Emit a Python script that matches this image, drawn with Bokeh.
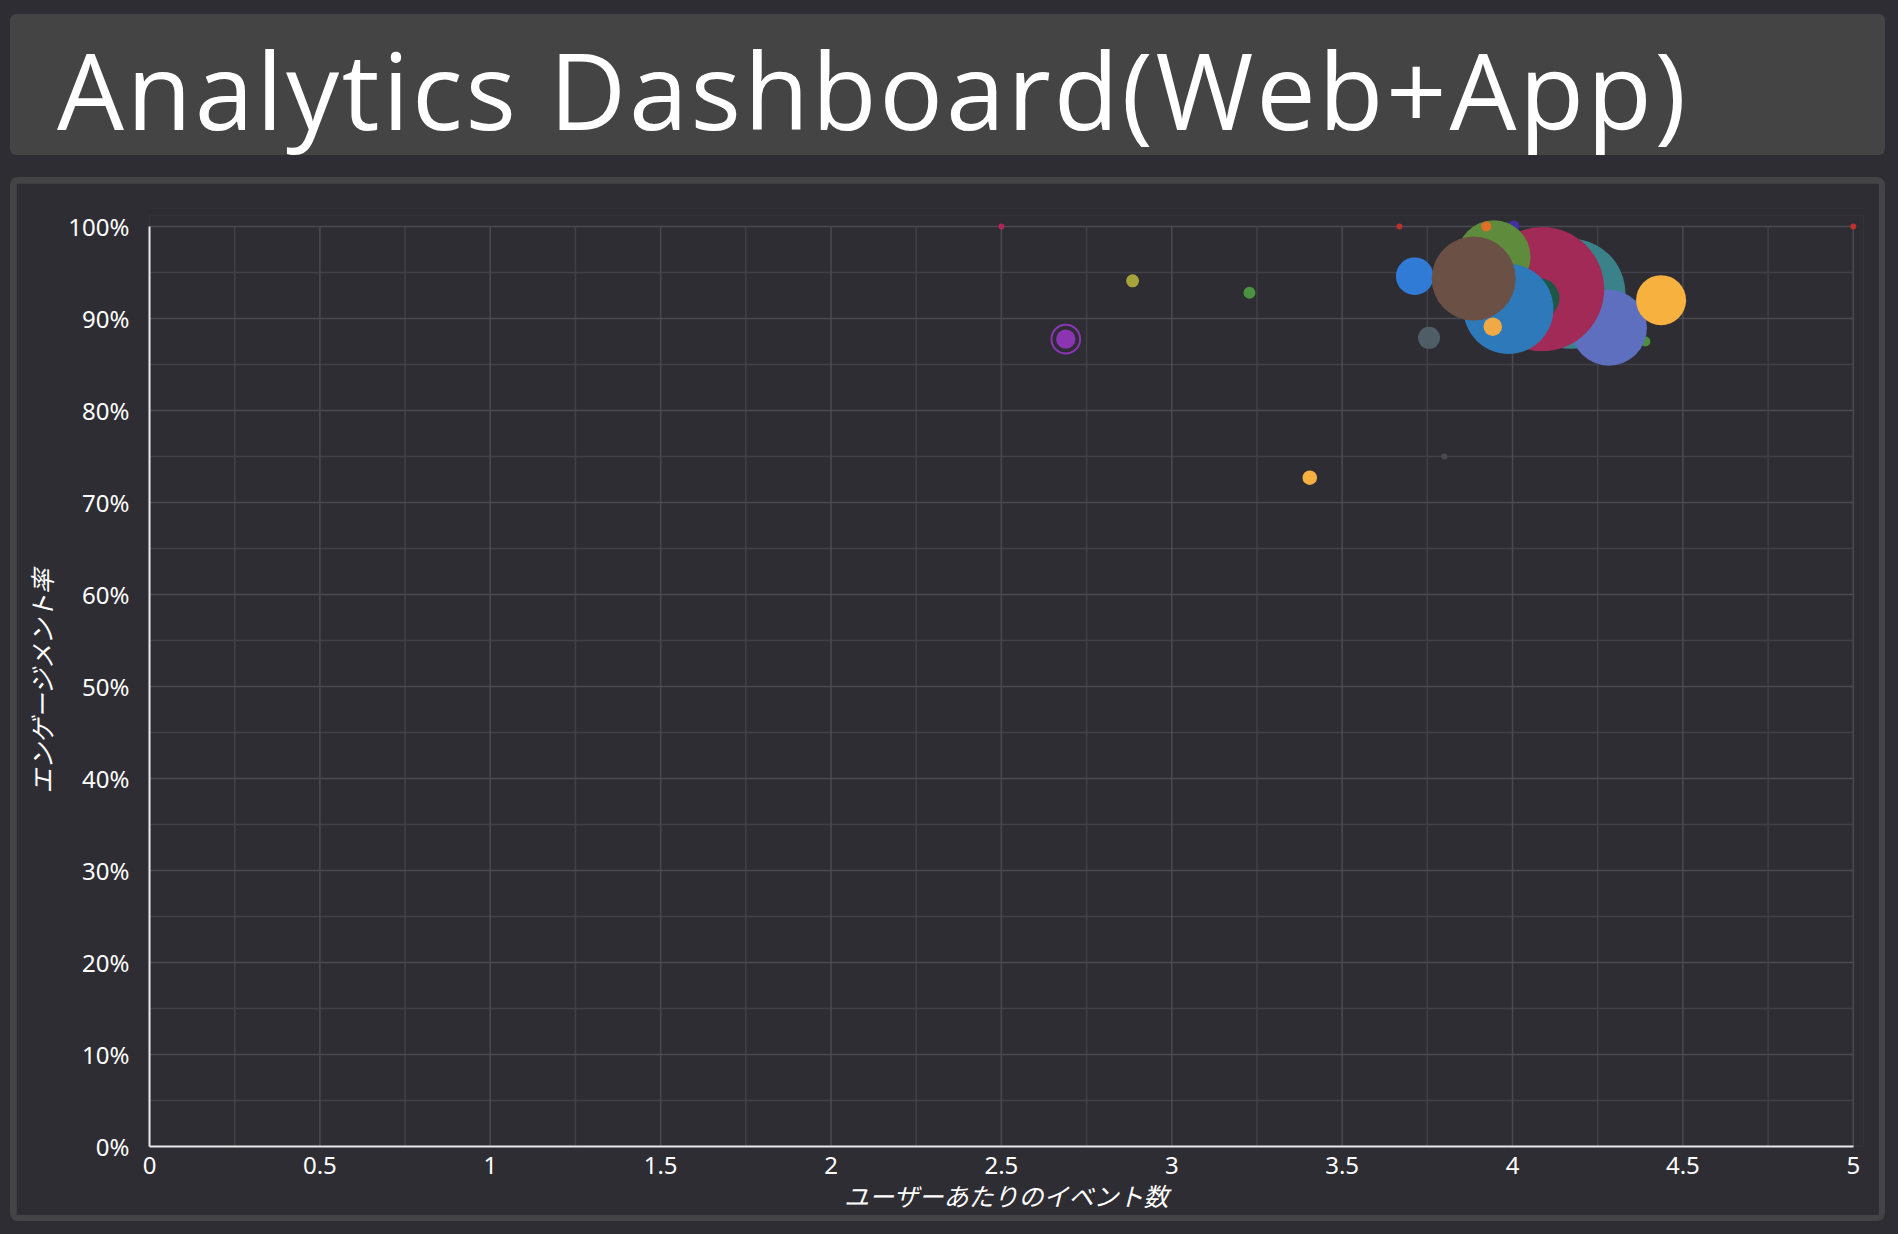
import numpy as np
from bokeh.plotting import figure
from bokeh.models import (ColumnDataSource, Range1d, FixedTicker, NumeralTickFormatter,
                          Div, GlobalInlineStyleSheet)
from bokeh.layouts import column
from bokeh.embed import file_html
from bokeh.resources import INLINE

# ---- data, listed in drawing order ----
events_per_user = [2.50, 2.689, 2.885, 3.228, 3.405, 3.668, 3.713, 3.755, 3.80,
                   4.170, 4.39, 4.283, 4.436, 4.003, 4.087, 4.079, 3.945, 3.988,
                   3.942, 3.886, 3.923, 5.00]
engagement_rate = [1.000, 0.8776, 0.941, 0.928, 0.727, 1.000, 0.946, 0.879, 0.750,
                   0.927, 0.875, 0.890, 0.920, 1.000, 0.932, 0.922, 0.967, 0.9105,
                   0.891, 0.9434, 1.000, 1.000]
users = [90, 940, 420, 360, 530, 90, 3530, 1210, 90,
         30250, 250, 14440, 6250, 360, 38440, 4000, 13470, 20250,
         860, 17640, 250, 90]
colors = ["#b0245a", "#8b35b3", "#a6a33a", "#4a9140", "#f6b03f", "#b8322a", "#2f7bd6",
          "#4e5d66", "#4a4a4f", "#3a818a", "#4b8f3b", "#5f6fbf", "#f6b13f", "#4030a0",
          "#a12a56", "#1c5747", "#5f8c3c", "#2e79b9", "#f0aa45", "#6a5045", "#e46e26",
          "#c0302c"]

# highlighted (hovered) point
highlight_x = [2.689]
highlight_y = [0.8776]
highlight_users = [2050]

x_ticks = [0, 0.5, 1, 1.5, 2, 2.5, 3, 3.5, 4, 4.5, 5]
x_minor = [0.25, 0.75, 1.25, 1.75, 2.25, 2.75, 3.25, 3.75, 4.25, 4.75]
y_ticks = [0, 0.1, 0.2, 0.3, 0.4, 0.5, 0.6, 0.7, 0.8, 0.9, 1.0]
y_minor = [0.05, 0.15, 0.25, 0.35, 0.45, 0.55, 0.65, 0.75, 0.85, 0.95]
x_min, x_max = 0, 5
y_min, y_max = 0, 1

title_text = "Analytics Dashboard(Web+App)"
x_label = "ユーザーあたりのイベント数"
y_label = "エンゲージメント率"

BG = "#2e2d33"
PANEL = "#444446"

size = [2 * np.sqrt(u / 10.0) for u in users]
src = ColumnDataSource(dict(x=events_per_user, y=engagement_rate, size=size, color=colors))
hl = ColumnDataSource(dict(x=highlight_x, y=highlight_y,
                           size=[2 * np.sqrt(u / 10.0) for u in highlight_users]))

p = figure(output_backend="svg", toolbar_location=None,
           width=1863, height=1025,
           frame_width=1714, frame_height=931,
           x_range=Range1d(x_min, 5.03), y_range=Range1d(y_min, 1.012),
           min_border_left=133, min_border_right=16, min_border_top=32, min_border_bottom=62,
           background_fill_color=BG, border_fill_color=BG, outline_line_color=None)
p.xgrid.visible = False
p.ygrid.visible = False

# grid lines (drawn from the tick lists)
def vlines(xs):
    return dict(x0=xs, x1=xs, y0=[y_min] * len(xs), y1=[y_max] * len(xs))

def hlines(ys):
    return dict(y0=ys, y1=ys, x0=[x_min] * len(ys), x1=[x_max] * len(ys))

for d, col in ((vlines(x_minor), "#414046"), (hlines(y_minor), "#414046"),
               (vlines(x_ticks), "#4b4a50"), (hlines(y_ticks), "#4b4a50")):
    p.segment("x0", "y0", "x1", "y1", source=ColumnDataSource(d),
              line_color=col, line_width=1.5)

for ax in (p.xaxis[0], p.yaxis[0]):
    ax.axis_line_color = "#e8e8e8"
    ax.axis_line_width = 2
    ax.major_tick_line_color = None
    ax.minor_tick_line_color = None
    ax.major_label_text_color = "#ffffff"
    ax.major_label_text_font = "Noto Sans"
    ax.major_label_text_font_size = "24px"
    ax.axis_label_text_color = "#ffffff"
    ax.axis_label_text_font = "Noto Sans CJK JP"
    ax.axis_label_text_font_size = "25px"
    ax.axis_label_text_font_style = "italic"

p.xaxis.ticker = FixedTicker(ticks=x_ticks, minor_ticks=x_minor)
p.yaxis.ticker = FixedTicker(ticks=y_ticks, minor_ticks=y_minor)
p.xaxis.formatter = NumeralTickFormatter(format="0.[0]")
p.yaxis.formatter = NumeralTickFormatter(format="0%")
p.xaxis.bounds = (x_min, x_max)
p.yaxis.bounds = (y_min, y_max)
p.xaxis.axis_label = x_label
p.yaxis.axis_label = y_label
p.xaxis.major_label_standoff = 4
p.xaxis.axis_label_standoff = 0
p.yaxis.major_label_standoff = 14
p.yaxis.axis_label_standoff = 6

p.scatter("x", "y", size="size", source=hl, fill_color=None,
          line_color="#8b35b3", line_width=2)
p.scatter("x", "y", size="size", source=src, fill_color="color", line_color=None)

title = Div(text=f'<div style="font-family:\'Open Sans\';font-size:106px;letter-spacing:2.8px;'
                 f'color:#ffffff;line-height:1;white-space:nowrap;padding-top:22px;'
                 f'padding-left:47px;">{title_text}</div>',
            width=1875, height=141, margin=(14, 0, 0, 10),
            styles={"background-color": "#444444", "border-radius": "6px", "overflow": "visible"})

# chart panel: a padded container whose background forms the border ring
panel = column(p, margin=(22, 0, 0, 10),
               styles={"background-color": PANEL, "padding": "6px", "border-radius": "8px"})

css = GlobalInlineStyleSheet(css=f"html, body {{ margin:0; padding:0; background:{BG}; }}")
layout = column(title, panel, stylesheets=[css])

open("out.html", "w").write(file_html(layout, INLINE))
